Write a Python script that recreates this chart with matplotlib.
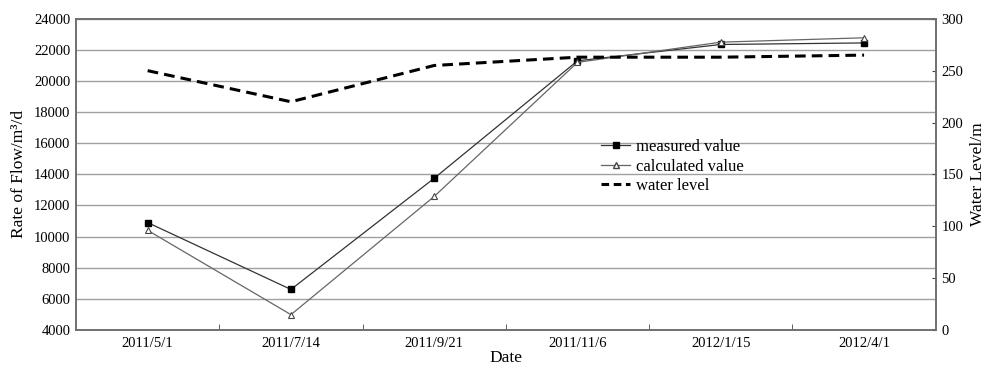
import matplotlib.pyplot as plt
from matplotlib.lines import Line2D

plt.rcParams['font.family'] = ['Liberation Serif', 'DejaVu Serif']

dates = ['2011/5/1', '2011/7/14', '2011/9/21', '2011/11/6', '2012/1/15', '2012/4/1']
measured = [10900, 6600, 13750, 21300, 22350, 22450]
calculated = [10400, 4980, 12580, 21200, 22500, 22780]
water_level = [250, 220, 255, 263, 263, 265]

fig = plt.figure(figsize=(9.95, 3.69), dpi=100)
ax = fig.add_axes([0.0764, 0.106, 0.864, 0.843])
ax2 = ax.twinx()

x = list(range(len(dates)))

# flow rates on the left axis
ax.plot(x, measured, color='#333333', lw=0.9, marker='s', ms=5,
        mfc='black', mec='black', zorder=3)
ax.plot(x, calculated, color='#666666', lw=0.9, marker='^', ms=5,
        mfc='white', mec='#444444', mew=0.8, zorder=3)
ax.set_ylim(4000, 24000)
ax.set_yticks(range(4000, 24001, 2000))
ax.set_xlim(-0.5, len(dates) - 0.5)
ax.set_xticks(x)
ax.set_xticklabels(dates)
ax.set_xticks([i + 0.5 for i in range(len(dates) - 1)], minor=True)
ax.tick_params(axis='x', which='major', length=0, labelsize=10.5, pad=5)
ax.tick_params(axis='x', which='minor', direction='in', length=4, color='#444444')
ax.tick_params(axis='y', length=0, labelsize=10.5, pad=4)
ax.yaxis.grid(True, color='#a0a0a0', lw=1.0)
ax.set_axisbelow(True)
ax.set_ylabel('Rate of Flow/m³/d', fontsize=12.5, labelpad=5)
ax.set_xlabel('Date', fontsize=12.5, labelpad=0)

# water level on the right axis
ax2.plot(x, water_level, color='black', lw=2.2, ls=(0, (3.5, 2)), zorder=3)
ax2.set_ylim(0, 300)
ax2.set_yticks(range(0, 301, 50))
ax2.tick_params(axis='y', direction='in', length=3, labelsize=10.5, pad=4, color='#444444')
ax2.set_ylabel('Water Level/m', fontsize=12.5, labelpad=5)

for a in (ax, ax2):
    for s in a.spines.values():
        s.set_color('#707070')
        s.set_linewidth(1.2)

handles = [
    Line2D([], [], color='#333333', lw=0.9, marker='s', ms=5, mfc='black', mec='black'),
    Line2D([], [], color='#666666', lw=0.9, marker='^', ms=5, mfc='white', mec='#444444'),
    Line2D([], [], color='black', lw=2.2, ls=(0, (2.5, 1.5))),
]
labels = ['measured value', 'calculated value', 'water level']
fig.legend(handles, labels, loc='upper left', bbox_to_anchor=(0.596, 0.645),
           frameon=False, fontsize=12, handlelength=1.7, handletextpad=0.4,
           labelspacing=0.2, borderpad=0)

fig.savefig('out.png', dpi=100, facecolor='white')
